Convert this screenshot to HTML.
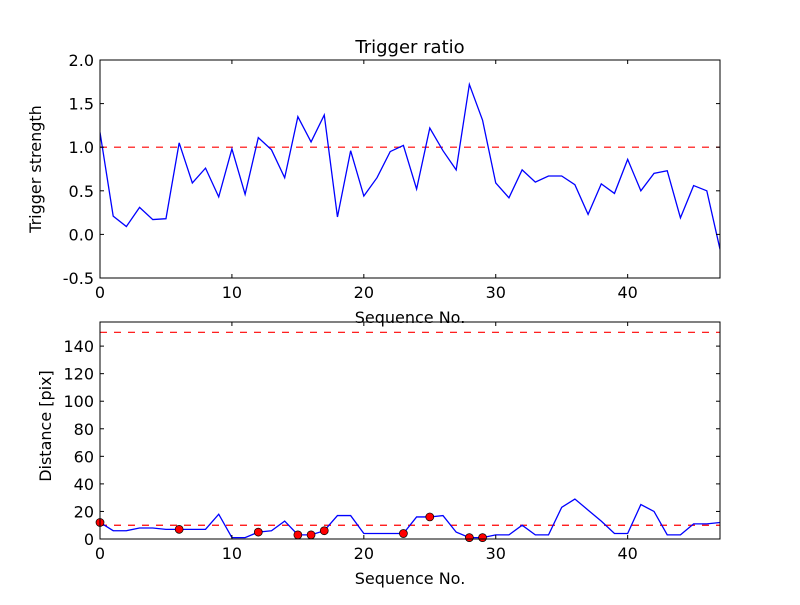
<!DOCTYPE html>
<html><head><meta charset="utf-8"><style>
html,body{margin:0;padding:0;background:#fff}
svg text{font-family:"DejaVu Sans","Liberation Sans",sans-serif;fill:#000}
</style></head><body>
<svg id="chart" width="800" height="600" viewBox="0 0 800 600"></svg>
<script>
const seq = Array.from({length:48},(_,i)=>i);
const trigger = [1.17,0.21,0.09,0.31,0.17,0.18,1.05,0.59,0.76,0.43,0.98,0.46,1.11,0.97,0.65,1.35,1.06,1.37,0.20,0.96,0.44,0.65,0.95,1.02,0.52,1.22,0.96,0.74,1.72,1.31,0.59,0.42,0.74,0.60,0.67,0.67,0.57,0.23,0.58,0.47,0.86,0.50,0.70,0.73,0.19,0.56,0.50,-0.17];
const distance = [12,6,6,8,8,7,7,7,7,18,1,1,5,6,13,3,3,6,17,17,4,4,4,4,16,16,17,5,1,1,3,3,10,3,3,23,29,21,13,4,4,25,20,3,3,11,11,12];
const markerIdx = [0,6,12,15,16,17,23,25,28,29];
const xTicks = [0,10,20,30,40];
const topYTicks = [-0.5,0.0,0.5,1.0,1.5,2.0];
const botYTicks = [0,20,40,60,80,100,120,140];
const topThreshold = 1.0;
const botThresholds = [10,150];

const NS="http://www.w3.org/2000/svg";
const svg=document.getElementById('chart');
function mk(tag,attrs,parent){const e=document.createElementNS(NS,tag);for(const k in attrs)e.setAttribute(k,attrs[k]);(parent||svg).appendChild(e);return e;}

function panel(cfg){
  const {L,R,T,B,ymin,ymax,name}=cfg;
  const g=mk('g',{});
  
  
  const xs=v=>L+(v-0)/(47-0)*(R-L);
  const ys=v=>B-(v-ymin)/(ymax-ymin)*(B-T);
  return {g,xs,ys,L,R,T,B};
}
function frame(p){
  const r=mk('rect',{x:p.L,y:p.T,width:p.R-p.L,height:p.B-p.T,fill:'none',stroke:'#000','stroke-width':1},p.g);
  
  
}
function ticks(p,yt,fmt){
  xTicks.forEach(v=>{
    const x=p.xs(v);
    mk('line',{x1:x,y1:p.B,x2:x,y2:p.B-4,stroke:'#000'},p.g);
    mk('line',{x1:x,y1:p.T,x2:x,y2:p.T+4,stroke:'#000'},p.g);
    const t=mk('text',{x:x,y:p.B+20,'font-size':16,'text-anchor':'middle'},p.g);
    t.textContent=v;
    
    
  });
  yt.forEach(v=>{
    const y=p.ys(v);
    mk('line',{x1:p.L,y1:y,x2:p.L+4,y2:y,stroke:'#000'},p.g);
    mk('line',{x1:p.R,y1:y,x2:p.R-4,y2:y,stroke:'#000'},p.g);
    const t=mk('text',{x:p.L-6,y:y+6,'font-size':16,'text-anchor':'end'},p.g);
    t.textContent=fmt(v);
    
    
  });
}
function hline(p,v){
  const l=mk('line',{x1:p.L,y1:p.ys(v),x2:p.R,y2:p.ys(v),stroke:'#ff0000','stroke-width':1.2,'stroke-dasharray':'7,7'},p.g);
  
  
}
function series(p,vals,name){
  const d=vals.map((v,i)=>(i?'L':'M')+p.xs(seq[i]).toFixed(2)+','+p.ys(v).toFixed(2)).join(' ');
  const path=mk('path',{d:d,fill:'none',stroke:'#0000ff','stroke-width':1.3},p.g);
  
  
}

const p1=panel({L:100,R:720,T:60,B:278,ymin:-0.5,ymax:2.0,name:'trigger-ratio-panel'});
const clip1=mk('clipPath',{id:'c1'});mk('rect',{x:100,y:60,width:620,height:218},clip1);
hline(p1,topThreshold);
const g1c=mk('g',{'clip-path':'url(#c1)'},p1.g);
series({...p1,g:g1c},trigger,'trigger-strength-line');
frame(p1);
ticks(p1,topYTicks,v=>v.toFixed(1));
let t=mk('text',{x:410,y:53,'font-size':18,'text-anchor':'middle'});t.textContent='Trigger ratio';


t=mk('text',{x:410,y:323,'font-size':16,'text-anchor':'middle'});t.textContent='Sequence No.';


t=mk('text',{x:0,y:0,'font-size':16,'text-anchor':'middle',transform:'translate(41,169) rotate(-90)'});t.textContent='Trigger strength';



const p2=panel({L:100,R:720,T:322,B:539,ymin:0,ymax:157.5,name:'distance-panel'});
botThresholds.forEach(v=>hline(p2,v));
series(p2,distance,'distance-line');
markerIdx.forEach(i=>{
  const c=mk('circle',{cx:p2.xs(seq[i]),cy:p2.ys(distance[i]),r:4,fill:'#ff0000',stroke:'#000','stroke-width':0.7},p2.g);
  
  
});
frame(p2);
ticks(p2,botYTicks,v=>String(v));
t=mk('text',{x:410,y:584,'font-size':16,'text-anchor':'middle'});t.textContent='Sequence No.';


t=mk('text',{x:0,y:0,'font-size':16,'text-anchor':'middle',transform:'translate(51,426) rotate(-90)'});t.textContent='Distance [pix]';


</script>
</body></html>
